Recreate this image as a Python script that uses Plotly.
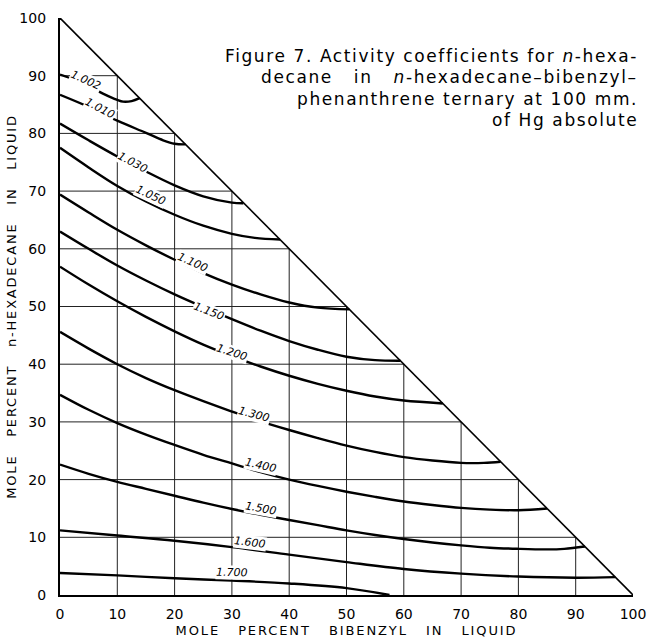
import plotly.graph_objects as go

# Composition axes (mole percent)
tick_values = list(range(0, 101, 10))
tick_text = [str(v) for v in tick_values]

# Iso-activity-coefficient curves: bibenzyl (x) vs n-hexadecane (y)
x_1002 = [0, 2.5, 5, 7.5, 10, 11, 12.5, 13.9]
y_1002 = [90.2, 89.3, 88.2, 86.9, 85.8, 85.5, 85.6, 86.1]

x_1010 = [0, 5, 10, 15, 18, 20, 21.9]
y_1010 = [86.7, 84.6, 82.2, 80.1, 78.8, 78.2, 78.1]

x_1030 = [0, 5, 10, 15, 20, 25, 30, 32]
y_1030 = [81.7, 78.8, 76.0, 73.4, 71.0, 69.1, 68.0, 67.9]

x_1050 = [0, 5, 10, 15, 20, 25, 30, 34, 38.4]
y_1050 = [77.5, 74.1, 70.9, 68.2, 65.9, 64.0, 62.6, 61.9, 61.6]

x_1100 = [0, 5, 10, 15, 20, 25, 30, 35, 40, 45, 50.5]
y_1100 = [69.4, 66.3, 63.3, 60.6, 58.1, 55.8, 53.8, 52.1, 50.7, 49.8, 49.5]

x_1150 = [0, 5, 10, 15, 20, 25, 30, 35, 40, 45, 50, 55, 59.4]
y_1150 = [63.0, 60.0, 57.1, 54.5, 52.1, 49.9, 47.8, 45.8, 44.0, 42.5, 41.3, 40.7, 40.6]

x_1200 = [0, 5, 10, 15, 20, 25, 30, 35, 40, 45, 50, 55, 60, 66.8]
y_1200 = [56.9, 53.8, 50.9, 48.2, 45.7, 43.4, 41.4, 39.6, 38.0, 36.6, 35.4, 34.4, 33.7, 33.2]

x_1300 = [0, 5, 10, 15, 20, 25, 30, 35, 40, 45, 50, 55, 60, 65, 70, 74, 76.9]
y_1300 = [45.6, 42.7, 40.0, 37.6, 35.5, 33.6, 31.8, 30.1, 28.6, 27.2, 25.9, 24.8, 23.9, 23.3, 22.9, 22.9, 23.1]

x_1400 = [0, 5, 10, 15, 20, 25, 30, 35, 40, 45, 50, 55, 60, 65, 70, 75, 80, 85]
y_1400 = [34.7, 32.1, 29.8, 27.8, 26.0, 24.3, 22.8, 21.3, 20.0, 18.9, 17.9, 17.0, 16.2, 15.6, 15.1, 14.8, 14.7, 15.0]

x_1500 = [0, 5, 10, 15, 20, 25, 30, 35, 40, 45, 50, 55, 60, 65, 70, 75, 80, 85, 88, 91.6]
y_1500 = [22.6, 21.0, 19.6, 18.4, 17.2, 16.0, 14.9, 13.9, 13.0, 12.1, 11.2, 10.4, 9.7, 9.1, 8.6, 8.2, 8.0, 7.9, 8.0, 8.4]

x_1600 = [0, 10, 20, 30, 40, 50, 60, 70, 80, 90, 96.9]
y_1600 = [11.2, 10.3, 9.4, 8.3, 7.0, 5.7, 4.5, 3.7, 3.2, 3.0, 3.1]

x_1700 = [0, 10, 20, 30, 40, 50, 57.5]
y_1700 = [3.8, 3.4, 2.9, 2.5, 2.0, 1.2, 0.0]

curve_labels = ["1.002", "1.010", "1.030", "1.050", "1.100", "1.150",
                "1.200", "1.300", "1.400", "1.500", "1.600", "1.700"]
curves = [(x_1002, y_1002), (x_1010, y_1010), (x_1030, y_1030), (x_1050, y_1050),
          (x_1100, y_1100), (x_1150, y_1150), (x_1200, y_1200), (x_1300, y_1300),
          (x_1400, y_1400), (x_1500, y_1500), (x_1600, y_1600), (x_1700, y_1700)]

# where each value label sits along its curve, and its tilt
label_pos = [(4.6, 89.2, 24), (7.0, 84.3, 28), (12.7, 75.0, 28), (15.9, 69.3, 25),
             (23.2, 57.7, 24), (26.0, 49.1, 21), (30.0, 42.0, 18), (33.9, 31.2, 15),
             (35.1, 22.5, 13), (35.1, 15.0, 10), (33.2, 9.1, 7), (30.0, 3.9, 1)]

FONT = "DejaVu Sans"
fig = go.Figure()

# grid, clipped to the composition triangle
gx, gy = [], []
for v in tick_values[1:-1]:
    gx += [v, v, None]
    gy += [0, 100 - v, None]
    gx += [0, 100 - v, None]
    gy += [v, v, None]
fig.add_trace(go.Scatter(x=gx, y=gy, mode="lines",
                         line=dict(color="#222", width=1), hoverinfo="skip"))

# hypotenuse: no phenanthrene
fig.add_trace(go.Scatter(x=[0, 100], y=[100, 0], mode="lines",
                         line=dict(color="black", width=1.6), hoverinfo="skip"))

for (xs, ys), name in zip(curves, curve_labels):
    fig.add_trace(go.Scatter(x=xs, y=ys, mode="lines", name=name,
                             line=dict(color="black", width=2.4, shape="spline", smoothing=1.0)))

annotations = []
for name, (lx, ly, ang) in zip(curve_labels, label_pos):
    annotations.append(dict(x=lx, y=ly, xref="x", yref="y", text="<i>" + name + "</i>",
                            showarrow=False, textangle=ang, bgcolor="white", borderpad=0,
                            font=dict(family=FONT, size=11, color="black")))

title_lines = [
    "Figure 7. Activity coefficients for <i>n</i>-hexa-",
    "decane\u00a0\u00a0\u00a0in\u00a0\u00a0\u00a0<i>n</i>-hexadecane\u2013bibenzyl\u2013",
    "phenanthrene ternary at 100 mm.",
    "of Hg absolute",
]
title_y = [0.935, 0.898, 0.860, 0.824]
for line, ty in zip(title_lines, title_y):
    annotations.append(dict(x=1.012, y=ty, xref="paper", yref="paper",
                            xanchor="right", yanchor="middle", align="right",
                            text='<span style="letter-spacing:1.6px">' + line + "</span>",
                            showarrow=False,
                            font=dict(family=FONT, size=17, color="black")))


def spaced(words, px):
    return ('<span style="letter-spacing:%spx">' % px) + ("\u00a0" * 3).join(words) + "</span>"


fig.update_layout(
    width=660, height=638,
    margin=dict(l=60, r=27, t=18, b=43),
    paper_bgcolor="white", plot_bgcolor="white",
    showlegend=False,
    annotations=annotations,
    xaxis=dict(range=[0, 100], tickvals=tick_values, ticktext=tick_text,
               showgrid=False, zeroline=False,
               showline=True, linecolor="black", linewidth=2.2, ticks="",
               ticklabelstandoff=5, automargin=False,
               tickfont=dict(family=FONT, size=14, color="black"),
               title=dict(text=spaced(["MOLE", "PERCENT", "BIBENZYL", "IN", "LIQUID"], 1.9),
                          font=dict(family=FONT, size=13, color="black"), standoff=5)),
    yaxis=dict(range=[0, 100], tickvals=tick_values, ticktext=tick_text,
               showgrid=False, zeroline=False,
               showline=True, linecolor="black", linewidth=2.2, ticks="",
               ticklabelstandoff=9, automargin=False,
               tickfont=dict(family=FONT, size=14, color="black"),
               title=dict(text=spaced(["MOLE", "PERCENT", "n-HEXADECANE", "IN", "LIQUID"], 1.8),
                          font=dict(family=FONT, size=13, color="black"), standoff=0)),
)

fig.write_html("out.html")
